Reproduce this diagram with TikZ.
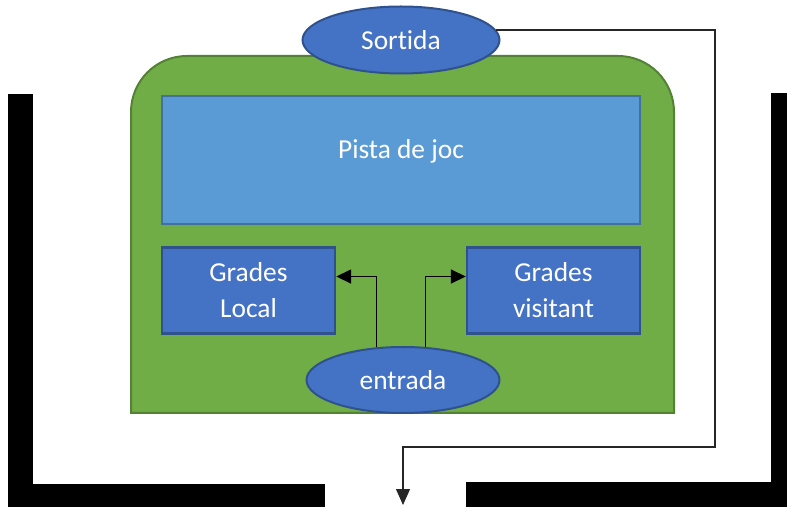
\documentclass[tikz,border=0pt]{standalone}
\usepackage{fontspec}
\setmainfont{Carlito}[Ligatures=NoCommon]
\usepackage{tikz}
\usetikzlibrary{positioning}
\usetikzlibrary{shapes.geometric}
\usetikzlibrary{arrows.meta}
\definecolor{hallgreen}{HTML}{70AD47}
\definecolor{hallborder}{HTML}{548235}
\definecolor{courtblue}{HTML}{5B9BD5}
\definecolor{courtborder}{HTML}{41719C}
\definecolor{standblue}{HTML}{4472C4}
\definecolor{standborder}{HTML}{2F528F}
\newlength{\vgap}
\tikzstyle{hall}=[draw=hallborder, fill=hallgreen, line width=1pt]
\tikzstyle{court}=[draw=courtborder, fill=courtblue, rectangle, line width=1.2pt, minimum width=239pt, minimum height=64pt, text=white, text height=9pt, text depth=10pt]
\tikzstyle{stand}=[draw=standborder, fill=standblue, rectangle, line width=1.2pt, minimum width=86.5pt, minimum height=43pt, text=white, align=center]
\tikzstyle{gate}=[draw=standborder, fill=standblue, ellipse, line width=1pt, inner sep=0pt, text=white]
\tikzstyle{wall}=[fill=black]
\tikzstyle{passage}=[draw=black, line width=0.8pt, -{Triangle[length=7.5pt, width=7pt]}]
\tikzstyle{exitline}=[draw=black!85, line width=0.6pt, -{Triangle[length=8pt, width=7pt]}]

\begin{document}
\begin{tikzpicture}[x=0.5pt, y=-0.5pt, font=\fontsize{13.7pt}{18pt}\selectfont]

	\setlength{\vgap}{10.5pt}
	\useasboundingbox (0,0) rectangle (787,507);

	% walls
	\path[wall] (8,94) rectangle (33,507);
	\path[wall] (8,484) rectangle (325,507);
	\path[wall] (771,93) rectangle (787,507);
	\path[wall] (466,482) rectangle (787,507);

	\draw[hall] (131,413) -- (131,112) arc[start angle=180, end angle=270, radius=56] -- (618,56) arc[start angle=270, end angle=360, radius=56] -- (674,413) -- cycle;

	\node (pista) [court] at (401,160) {Pista de joc};
	\node (local) [stand, below right=\vgap and 0pt of pista.south west] {Grades\\Local};
	\node (visitant) [stand, below left=\vgap and 0pt of pista.south east] {Grades\\visitant};

	\node (entrada) [gate, minimum width=96.5pt, minimum height=33pt] at (403,380) {entrada};
	\node (sortida) [gate, minimum width=98.5pt, minimum height=33.5pt] at (401,40) {Sortida};

	\coordinate (turn) at (715,447);
	\coordinate (exitdoor) at (403,505);

	\draw[passage] (entrada.129) |- (local.9);
	\draw[passage] (entrada.56) |- (visitant.171);
	\draw[exitline] (sortida.6) -| (turn) -| (exitdoor);
\end{tikzpicture}
\end{document}
